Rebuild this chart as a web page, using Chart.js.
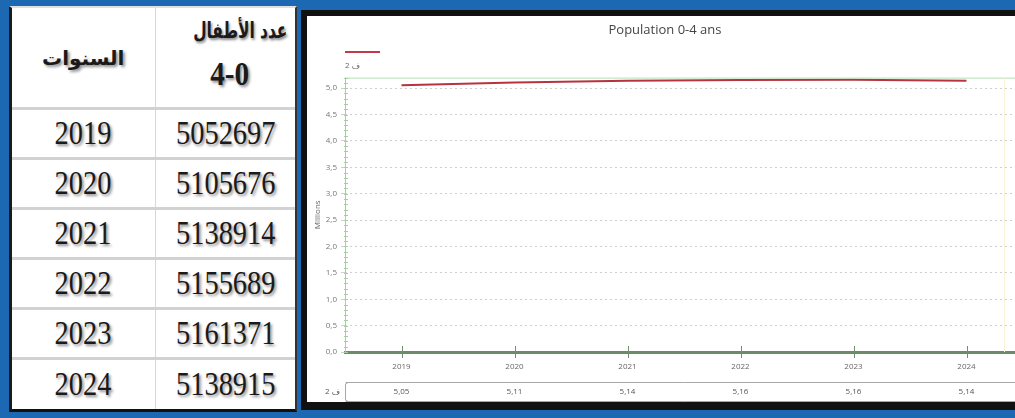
<!DOCTYPE html>
<html><head><meta charset="utf-8">
<script src="https://cdn.jsdelivr.net/npm/chart.js@4.4.1/dist/chart.umd.min.js"></script>
<style>
html,body{margin:0;padding:0;}
body{width:1015px;height:418px;background:#1d68b2;position:relative;overflow:hidden;font-family:"Liberation Serif","DejaVu Serif",serif;}
#tbl{position:absolute;left:9px;top:6px;width:288px;height:406px;background:#fff;border-left:3px solid #1a1a1a;border-right:2px solid #333;border-bottom:3px solid #111;border-top:2px solid #e0e0e0;box-sizing:border-box;}
table{border-collapse:collapse;width:100%;height:100%;table-layout:fixed;}
td{text-align:center;padding:0;color:#1a1a1a;text-shadow:2px 2px 3px rgba(0,0,0,0.45);overflow:hidden;white-space:nowrap;}
td.c1{border-right:1px solid #d8d8d8;}
tr.hd td{height:99px;}
tr.rw td{height:50px;border-top:3px solid #d2d2d2;box-sizing:border-box;}
.num{display:inline-block;font-size:33px;transform:scaleX(0.86);line-height:1;}
.ar{font-family:"DejaVu Sans",sans-serif;font-weight:bold;font-size:20px;line-height:1.2;white-space:nowrap;}
.h1{display:inline-block;font-size:22px;transform:translateX(15px) scaleX(0.7);margin-top:-6px;}
.h2{font-family:"Liberation Serif",serif;font-weight:bold;font-size:34px;display:inline-block;transform:translateX(4px) scaleX(0.86);margin-top:12px;line-height:1;}
#panel{position:absolute;left:301px;top:10px;width:760px;height:386px;background:#fff;border:6px solid #111;border-bottom-width:8px;border-right:none;overflow:hidden;}
#wrap{position:absolute;left:0;top:2px;width:716px;height:384px;}
</style></head>
<body>
<div id="tbl"><table id="t"></table></div>
<div id="panel"><div id="wrap"><canvas id="c" width="716" height="384"></canvas></div></div>
<script>
const years = ['2019','2020','2021','2022','2023','2024'];
const children = [5052697, 5105676, 5138914, 5155689, 5161371, 5138915];
const headYears = 'السنوات';
const headChildren = 'عدد الأطفال';
const headAge = '4-0';
const chartTitle = 'Population 0-4 ans';
const seriesLabel = 'ف 2';
const axisTitle = 'Millions';

// table
const t = document.getElementById('t');
let html = '<colgroup><col style="width:143px"><col></colgroup>';
html += '<tr class="hd"><td class="c1"><span class="ar">' + headYears + '</span></td><td><span class="ar h1" dir="rtl">' + headChildren + '</span><br><span class="h2" dir="ltr">' + headAge + '</span></td></tr>';
years.forEach((y, i) => {
  html += '<tr class="rw"><td class="c1"><span class="num">' + y + '</span></td><td><span class="num">' + children[i] + '</span></td></tr>';
});
t.innerHTML = html;

const millions = children.map(v => v / 1e6);
const fmt2 = v => v.toFixed(2).replace('.', ',');

const deco = {
  id: 'deco',
  afterDraw(chart) {
    const ctx = chart.ctx, a = chart.chartArea, xs = chart.scales.x, ys = chart.scales.y;
    ctx.save();
    // top green line
    ctx.strokeStyle = '#b3e0b3'; ctx.lineWidth = 1;
    ctx.beginPath(); ctx.moveTo(a.left, a.top + 0.5); ctx.lineTo(a.right, a.top + 0.5); ctx.stroke();
    // y axis line + minor ticks
    ctx.strokeStyle = '#9fd49f';
    ctx.beginPath(); ctx.moveTo(a.left + 0.5, a.top); ctx.lineTo(a.left + 0.5, a.bottom); ctx.stroke();
    for (let k = 0; k <= 52; k++) {
      const py = Math.round(ys.getPixelForValue(k / 10)) + 0.5;
      ctx.beginPath(); ctx.moveTo(a.left - 1, py); ctx.lineTo(a.left + 3, py); ctx.stroke();
    }
    // x tick marks crossing axis
    ctx.strokeStyle = '#6f8f6f'; ctx.lineWidth = 1;
    years.forEach((y, i) => {
      const px = Math.round(xs.getPixelForValue(i)) + 0.5;
      ctx.beginPath(); ctx.moveTo(px, a.bottom - 6); ctx.lineTo(px, a.bottom + 6); ctx.stroke();
    });
    // right pale line
    ctx.strokeStyle = '#faf1d8';
    ctx.beginPath(); ctx.moveTo(697.5, a.top); ctx.lineTo(697.5, a.bottom); ctx.stroke();
    // legend
    ctx.strokeStyle = '#c23a4a'; ctx.lineWidth = 2;
    ctx.beginPath(); ctx.moveTo(38, 34); ctx.lineTo(73, 34); ctx.stroke();
    ctx.fillStyle = '#666'; ctx.font = '8px "Open Sans", "DejaVu Sans", sans-serif';
    ctx.textAlign = 'left'; ctx.textBaseline = 'middle';
    ctx.fillText(seriesLabel, 38, 48);
    // data table
    ctx.strokeStyle = '#a8a8a8'; ctx.lineWidth = 1;
    ctx.beginPath(); ctx.moveTo(a.left + 0.5, 364.5); ctx.lineTo(716, 364.5); ctx.stroke();
    ctx.beginPath(); ctx.moveTo(a.left + 3, 364.5); ctx.lineTo(a.left + 0.5, 366); ctx.lineTo(a.left + 0.5, 382); ctx.lineTo(a.left + 3, 383.5); ctx.stroke();
    ctx.beginPath(); ctx.moveTo(a.left + 0.5, 383.5); ctx.lineTo(716, 383.5); ctx.stroke();
    ctx.fillStyle = '#555'; ctx.textAlign = 'center';
    millions.forEach((v, i) => {
      ctx.fillText(fmt2(v), xs.getPixelForValue(i), 374);
    });
    ctx.textAlign = 'right';
    ctx.fillText(seriesLabel, 33, 374);
    ctx.restore();
  }
};

new Chart(document.getElementById('c'), {
  type: 'line',
  data: {
    labels: years,
    datasets: [{
      label: seriesLabel,
      data: millions,
      borderColor: '#b8333f',
      borderWidth: 2,
      pointRadius: 0,
      tension: 0
    }]
  },
  options: {
    responsive: false,
    animation: false,
    layout: { padding: 0 },
    plugins: {
      legend: { display: false },
      tooltip: { enabled: false },
      title: {
        display: true, text: chartTitle, color: '#444',
        font: { family: '"Open Sans", "DejaVu Sans", sans-serif', size: 13, weight: 'normal' },
        padding: { top: 4, bottom: 40 }
      }
    },
    scales: {
      x: {
        offset: true,
        grid: { display: true, drawOnChartArea: false, drawTicks: false, color: 'rgba(0,0,0,0)' },
        border: { display: true, color: '#6b8b6b', width: 3 },
        ticks: { color: '#666', padding: 10, font: { family: '"Open Sans", "DejaVu Sans", sans-serif', size: 8 }, maxRotation: 0, autoSkip: false },
        afterFit(s) { s.height = 50; }
      },
      y: {
        min: 0, max: 5.2,
        grid: { color: '#cfcfcf', lineWidth: 1, tickLength: 4, drawTicks: true },
        border: { display: false, dash: [2, 3] },
        ticks: {
          stepSize: 0.5, includeBounds: false, padding: 4, color: '#777',
          font: { family: '"Open Sans", "DejaVu Sans", sans-serif', size: 8 },
          callback: v => Number(v).toFixed(1).replace('.', ',')
        },
        title: { display: true, text: axisTitle, color: '#666', padding: 6, font: { family: '"Open Sans", "DejaVu Sans", sans-serif', size: 8 } },
        afterFit(s) { s.width = 38; }
      }
    }
  },
  plugins: [deco]
});
</script>
</body></html>
